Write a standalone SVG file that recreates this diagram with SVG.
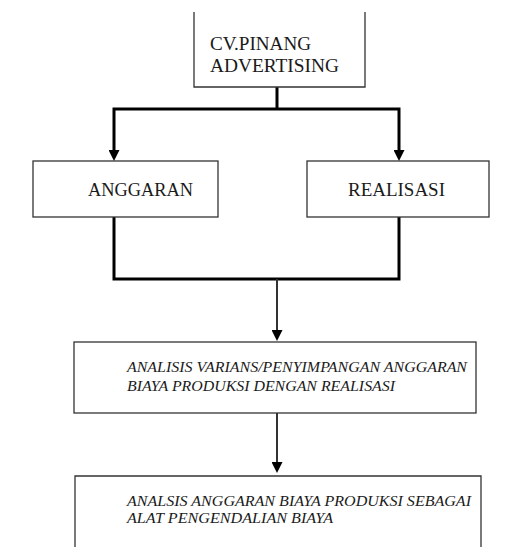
<svg xmlns="http://www.w3.org/2000/svg" width="510" height="547" viewBox="0 0 510 547">
  <style>
    .box { fill: #ffffff; stroke: #333333; stroke-width: 1.3; }
    .conn { fill: none; stroke: #000000; stroke-width: 3; }
    .conn2 { fill: none; stroke: #333333; stroke-width: 2; }
    .t { font-family: "Liberation Serif", "Times New Roman", serif; font-size: 18px; fill: #1a1a1a; }
    .ti { font-family: "Liberation Serif", "Times New Roman", serif; font-size: 15px; font-style: italic; fill: #1a1a1a; }
  </style>
  <defs>
    <marker id="arrow" viewBox="0 0 11 11" refX="5" refY="5.5" markerWidth="11" markerHeight="11" markerUnits="userSpaceOnUse" orient="auto">
      <path d="M0,0 L11,5.5 L0,11 z" fill="#000000"/>
    </marker>
  </defs>
  <rect width="510" height="547" fill="#ffffff"/>

  <g id="connectors">
    <path class="conn" d="M277,87 V109"/>
    <path class="conn" d="M277,109 H114 V155" marker-end="url(#arrow)"/>
    <path class="conn" d="M277,109 H399 V155" marker-end="url(#arrow)"/>
    <path class="conn" d="M114,217 V279 H399 V217"/>
    <path class="conn2" d="M277,279 V335" marker-end="url(#arrow)"/>
    <path class="conn2" d="M277,413 V467" marker-end="url(#arrow)"/>
  </g>

  <g id="cv-pinang">
    <path class="box" d="M194,12 V87 H365 V12"/>
    <text class="t" x="210" y="50" textLength="101" lengthAdjust="spacingAndGlyphs">CV.PINANG</text>
    <text class="t" x="210" y="72" textLength="129" lengthAdjust="spacingAndGlyphs">ADVERTISING</text>
  </g>

  <g id="anggaran">
    <rect class="box" x="33" y="161" width="185" height="56"/>
    <text class="t" x="88" y="196" textLength="105" lengthAdjust="spacingAndGlyphs">ANGGARAN</text>
  </g>

  <g id="realisasi">
    <rect class="box" x="307" y="161" width="182" height="56"/>
    <text class="t" x="348" y="196" textLength="97" lengthAdjust="spacingAndGlyphs">REALISASI</text>
  </g>

  <g id="analisis-varians">
    <rect class="box" x="74" y="342" width="402" height="71"/>
    <text class="ti" x="127" y="372" textLength="340" lengthAdjust="spacingAndGlyphs">ANALISIS VARIANS/PENYIMPANGAN ANGGARAN</text>
    <text class="ti" x="127" y="391" textLength="268" lengthAdjust="spacingAndGlyphs">BIAYA PRODUKSI DENGAN REALISASI</text>
  </g>

  <g id="analisis-anggaran">
    <path class="box" d="M75,548 V476 H481 V548"/>
    <text class="ti" x="127" y="506" textLength="344" lengthAdjust="spacingAndGlyphs">ANALSIS ANGGARAN BIAYA PRODUKSI SEBAGAI</text>
    <text class="ti" x="127" y="523" textLength="206" lengthAdjust="spacingAndGlyphs">ALAT PENGENDALIAN BIAYA</text>
  </g>
</svg>
